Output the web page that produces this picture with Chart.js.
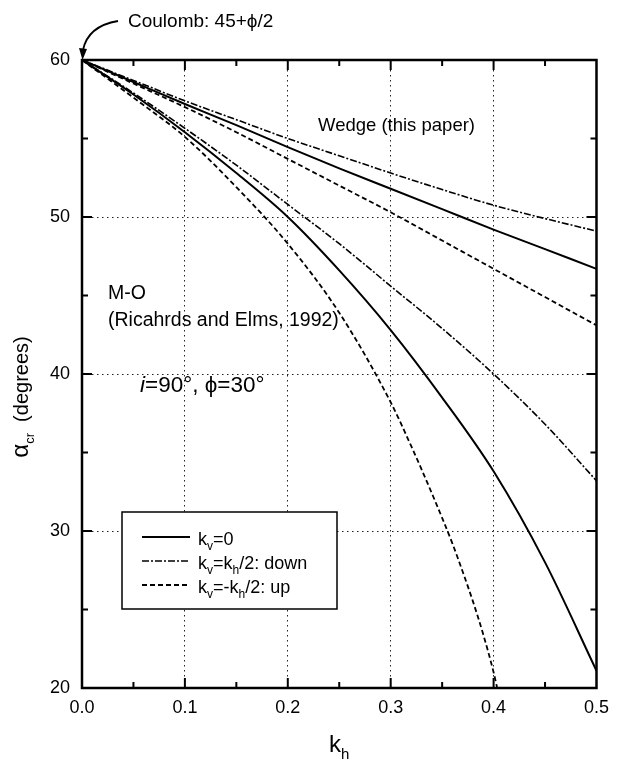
<!DOCTYPE html>
<html>
<head>
<meta charset="utf-8">
<script src="https://cdn.jsdelivr.net/npm/chart.js@4.4.1/dist/chart.umd.min.js"></script>
<style>
html,body{margin:0;padding:0;background:#fff;}
#wrap{width:618px;height:764px;position:relative;}
</style>
</head>
<body>
<div id="wrap"><canvas id="c" width="618" height="764"></canvas></div>
<script>
// ---- data ----
const khValues = [0, 0.05, 0.1, 0.15, 0.2, 0.25, 0.3, 0.35, 0.4, 0.45, 0.5];
const wedgeDown = [60, 58.7, 57.4, 56.2, 55.0, 53.9, 52.8, 51.75, 50.75, 49.9, 49.1];
const wedgeKv0  = [60, 58.6, 57.2, 55.85, 54.45, 53.1, 51.8, 50.5, 49.2, 47.95, 46.7];
const wedgeUp   = [60, 58.5, 57.0, 55.4, 53.7, 52.0, 50.3, 48.5, 46.7, 44.9, 43.1];
const moDown    = [60, 57.9, 55.65, 53.3, 50.8, 48.3, 45.6, 42.9, 40.0, 36.8, 33.2];
const moKv0     = [60, 57.8, 55.4, 52.8, 50.0, 46.6, 42.8, 38.5, 33.8, 28.0, 21.1];
const moUpKh    = [0, 0.05, 0.1, 0.15, 0.2, 0.25, 0.3, 0.32, 0.34, 0.36, 0.37, 0.38, 0.39, 0.4, 0.4035];
const moUp      = [60, 57.6, 55.1, 51.9, 48.3, 43.9, 38.2, 35.4, 32.4, 29.2, 27.4, 25.5, 23.4, 21.0, 20.0];
const xTicks = [0.0, 0.1, 0.2, 0.3, 0.4, 0.5];
const yTicks = [20, 30, 40, 50, 60];
const legendLabels = [
  [{t:'k'},{t:'v',s:1},{t:'=0'}],
  [{t:'k'},{t:'v',s:1},{t:'=k'},{t:'h',s:1},{t:'/2: down'}],
  [{t:'k'},{t:'v',s:1},{t:'=-k'},{t:'h',s:1},{t:'/2: up'}]
];

const FONT = '"Liberation Sans", Arial, Helvetica, sans-serif';
const SOLID = [], DASHDOT = [7,2,2,2], DASHED = [5,3];

function pts(xs, ys){ return xs.map((x,i)=>({x:x, y:ys[i]})); }
function ds(label, xs, ys, dash, w){
  return {label, data: pts(xs, ys), borderColor:'#000', borderWidth:w, borderDash:dash,
    pointRadius:0, fill:false, cubicInterpolationMode:'monotone', tension:0.4};
}

function drawRich(ctx, x, y, parts, size, subSize, align){
  let w = 0;
  const segs = parts.map(p=>{
    const f = (p.i ? 'italic ' : '') + (p.s ? subSize : (p.size||size)) + 'px ' + FONT;
    ctx.font = f; const mw = ctx.measureText(p.t).width; w += mw;
    return {p, f, mw};
  });
  let cx = align === 'center' ? x - w/2 : x;
  ctx.textBaseline = 'alphabetic'; ctx.textAlign = 'left';
  segs.forEach(sg=>{
    ctx.font = sg.f;
    ctx.fillText(sg.p.t, cx, y + (sg.p.s ? Math.round(size*0.3) : 0));
    cx += sg.mw;
  });
  return w;
}

const decor = {
  id:'decor',
  afterDraw(chart){
    const ctx = chart.ctx, a = chart.chartArea, xs = chart.scales.x, ys = chart.scales.y;
    ctx.save();
    ctx.fillStyle = '#000'; ctx.strokeStyle = '#000';
    // inner ticks
    ctx.lineWidth = 2; ctx.setLineDash([]);
    for (let k = 1; k < 10; k++) {
      const v = k*0.05, px = xs.getPixelForValue(v), len = (k%2===0) ? 10 : 6;
      ctx.beginPath();
      ctx.moveTo(px, a.bottom); ctx.lineTo(px, a.bottom - len);
      ctx.moveTo(px, a.top); ctx.lineTo(px, a.top + len);
      ctx.stroke();
    }
    for (let v = 25; v < 60; v += 5) {
      const py = ys.getPixelForValue(v), len = (v%10===0) ? 10 : 6;
      ctx.beginPath();
      ctx.moveTo(a.left, py); ctx.lineTo(a.left + len, py);
      ctx.moveTo(a.right, py); ctx.lineTo(a.right - len, py);
      ctx.stroke();
    }
    // frame
    ctx.lineWidth = 2.5;
    ctx.strokeRect(a.left, a.top, a.right - a.left, a.bottom - a.top);

    // axis titles
    drawRich(ctx, (a.left + a.right)/2, 752, [{t:'k'},{t:'h',s:1}], 24, 15, 'center');
    ctx.save();
    ctx.translate(28, 397); ctx.rotate(-Math.PI/2);
    drawRich(ctx, 0, 0, [{t:'\u03B1', size:24},{t:'cr',s:1},{t:'  (degrees)'}], 20, 13, 'center');
    ctx.restore();

    // annotations
    drawRich(ctx, 128, 27, [{t:'Coulomb: 45+\u03D5/2'}], 19, 12, 'left');
    drawRich(ctx, 318, 131, [{t:'Wedge (this paper)'}], 18.5, 12, 'left');
    drawRich(ctx, 108, 299, [{t:'M-O'}], 19.5, 12, 'left');
    drawRich(ctx, 108, 326, [{t:'(Ricahrds and Elms, 1992)'}], 19.5, 12, 'left');
    drawRich(ctx, 140, 392, [{t:'i', i:1},{t:'=90\u00B0, \u03D5=30\u00B0'}], 22.5, 12, 'left');

    // arrow from Coulomb label to origin
    ctx.lineWidth = 1.8;
    ctx.beginPath();
    ctx.moveTo(118, 21);
    ctx.quadraticCurveTo(88, 26, 83, 50);
    ctx.stroke();
    ctx.beginPath();
    ctx.moveTo(82.5, 60); ctx.lineTo(79, 48); ctx.lineTo(87, 49); ctx.closePath(); ctx.fill();

    // legend
    const lx = 122, ly = 512, lw = 215, lh = 97;
    ctx.fillStyle = '#fff'; ctx.fillRect(lx, ly, lw, lh);
    ctx.fillStyle = '#000';
    ctx.lineWidth = 1.5; ctx.strokeRect(lx, ly, lw, lh);
    const styles = [[SOLID,2],[DASHDOT,1.6],[DASHED,1.8]];
    const baselines = [545, 569, 593];
    baselines.forEach((b,i)=>{
      ctx.setLineDash(styles[i][0]); ctx.lineWidth = styles[i][1];
      ctx.beginPath(); ctx.moveTo(142, b - 8); ctx.lineTo(190, b - 8); ctx.stroke();
      ctx.setLineDash([]);
      drawRich(ctx, 198, b, legendLabels[i], 18, 12, 'left');
    });
    ctx.restore();
  }
};

new Chart(document.getElementById('c'), {
  type: 'line',
  data: {
    datasets: [
      ds('Wedge kv=kh/2 down', khValues, wedgeDown, DASHDOT, 1.6),
      ds('Wedge kv=0', khValues, wedgeKv0, SOLID, 2),
      ds('Wedge kv=-kh/2 up', khValues, wedgeUp, DASHED, 1.8),
      ds('M-O kv=kh/2 down', khValues, moDown, DASHDOT, 1.6),
      ds('M-O kv=0', khValues, moKv0, SOLID, 2),
      ds('M-O kv=-kh/2 up', moUpKh, moUp, DASHED, 1.8)
    ]
  },
  options: {
    responsive: false, animation: false, devicePixelRatio: 1,
    layout: { padding: { left: 0, right: 16, top: 60, bottom: 0 } },
    plugins: { legend: { display: false }, tooltip: { enabled: false } },
    scales: {
      x: {
        type: 'linear', min: 0, max: 0.5,
        afterFit(s){ s.height = 76; },
        afterBuildTicks(s){ s.ticks = xTicks.map(v=>({value:v})); },
        ticks: { padding: 9, color:'#000', font:{ family: FONT, size: 18 }, maxRotation: 0, autoSkip: false,
          callback: v => Number(v).toFixed(1) },
        grid: { drawTicks: false, lineWidth: 1,
          color: c => (c.tick && (c.tick.value <= 0 || c.tick.value >= 0.5)) ? 'rgba(0,0,0,0)' : '#222' },
        border: { display: false, dash: [1.5, 3.5] }
      },
      y: {
        type: 'linear', min: 20, max: 60,
        afterFit(s){ s.width = 82; },
        afterBuildTicks(s){ s.ticks = yTicks.map(v=>({value:v})); },
        ticks: { padding: 12, color:'#000', font:{ family: FONT, size: 18 } },
        grid: { drawTicks: false, lineWidth: 1,
          color: c => (c.tick && (c.tick.value <= 20 || c.tick.value >= 60)) ? 'rgba(0,0,0,0)' : '#222' },
        border: { display: false, dash: [1.5, 3.5] }
      }
    }
  },
  plugins: [decor]
});
</script>
</body>
</html>
